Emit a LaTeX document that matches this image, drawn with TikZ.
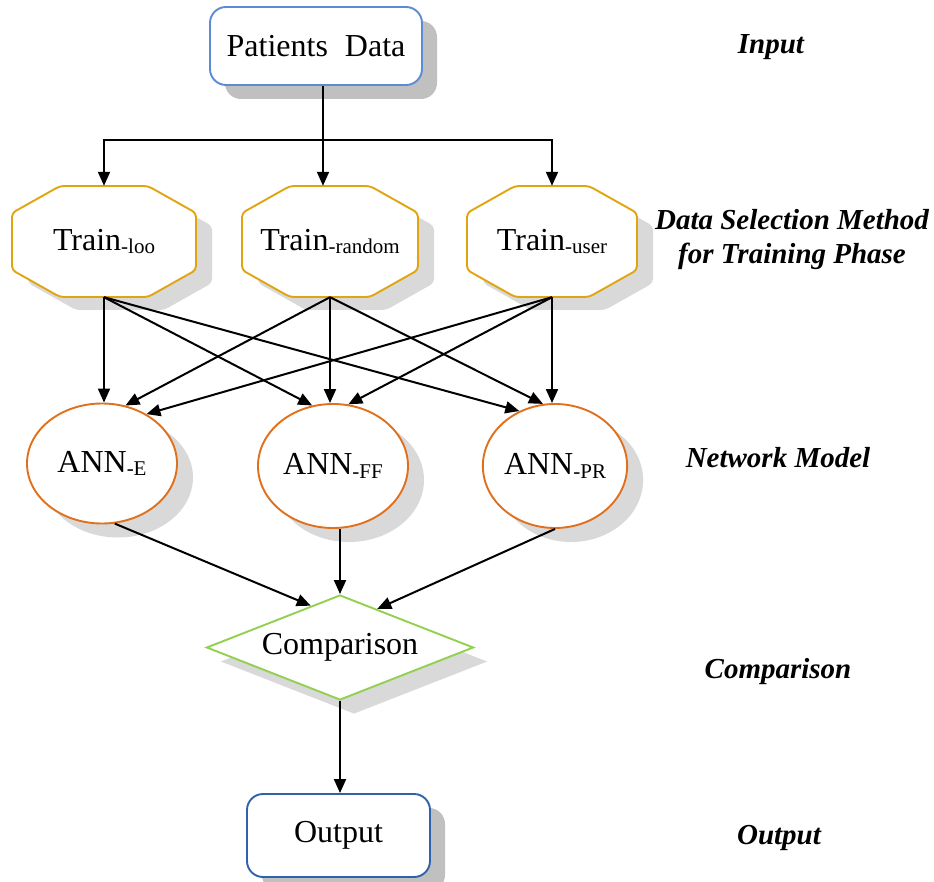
\documentclass[tikz,border=0pt]{standalone}
\usepackage{fontspec}
\setmainfont{Liberation Serif}
\usetikzlibrary{arrows.meta,shapes.geometric,shadows}

\definecolor{pdblue}{HTML}{5B8BD4}
\definecolor{outblue}{HTML}{2F62AA}
\definecolor{octgold}{HTML}{E0A50E}
\definecolor{annorange}{HTML}{E0701C}
\definecolor{cmpgreen}{HTML}{92D050}
\definecolor{shadowdark}{HTML}{C0C0C0}
\definecolor{shadowlight}{HTML}{D9D9D9}

% subscript tag such as "-loo"
\newcommand\subtag[1]{\raisebox{-0.12em}{\fontsize{21}{21}\selectfont -#1}}

% octagon outline: #1 style, #2/#3 centre, #4 half width, #5 half height
\newcommand\octshape[5]{%
  \path[#1, shift={(#2,#3)}, rounded corners=4pt]
    ({-#4+48},#5) -- ({#4-48},#5) -- (#4,{#5-27}) -- (#4,{-#5+27})
    -- ({#4-48},-#5) -- ({-#4+48},-#5) -- (-#4,{-#5+27}) -- (-#4,{#5-27}) -- cycle;}

\tikzset{
  maintext/.style={font=\fontsize{32}{36}\selectfont, text=black},
  roundbox/.style={maintext, rectangle, rounded corners=16pt, fill=white,
    line width=1.9pt, inner sep=0pt,
    drop shadow={shadow xshift=15pt, shadow yshift=-14pt, fill=shadowdark, opacity=1}},
  octline/.style={draw=octgold, line width=1.9pt, fill=white},
  octshadow/.style={fill=shadowlight},
  octnode/.style={maintext, rectangle, inner sep=0pt},
  annnode/.style={maintext, ellipse, draw=annorange, line width=1.9pt, fill=white,
    inner sep=0pt,
    drop shadow={shadow xshift=16pt, shadow yshift=-14pt, fill=shadowlight, opacity=1}},
  cmpnode/.style={maintext, diamond, aspect=2.5, draw=cmpgreen, line width=1.9pt,
    fill=white, inner sep=0pt, minimum width=267pt, minimum height=105pt,
    drop shadow={shadow xshift=14pt, shadow yshift=-14pt, fill=shadowlight, opacity=1}},
  lbl/.style={font=\fontsize{29}{34}\selectfont\bfseries\itshape, align=center},
  link/.style={line width=2pt, black},
  arr/.style={link, -{Triangle[length=14pt, width=12pt]}},
}

\begin{document}
\begin{tikzpicture}[x=1pt, y=1pt]
\useasboundingbox (0,0) rectangle (934,-882);

% input box
\node[roundbox, draw=pdblue, minimum width=212pt, minimum height=78pt] (pd) at (316,-46)
  {Patients\hspace{17pt}Data};

% data selection octagons
\octshape{octshadow}{120}{-254.5}{92}{55.5}
\octshape{octshadow}{346}{-254.5}{88}{55.5}
\octshape{octshadow}{568}{-254.5}{85}{55.5}
\octshape{octline}{104}{-241.5}{92}{55.5}
\octshape{octline}{330}{-241.5}{88}{55.5}
\octshape{octline}{552}{-241.5}{85}{55.5}
\node[octnode, minimum width=184pt, minimum height=111pt] (trL) at (104,-241.5) {Train\subtag{loo}};
\node[octnode, minimum width=176pt, minimum height=111pt] (trR) at (330,-241.5) {Train\subtag{random}};
\node[octnode, minimum width=170pt, minimum height=111pt] (trU) at (552,-241.5) {Train\subtag{user}};

% network models
\node[annnode, minimum width=150pt, minimum height=120pt] (annE)  at (102,-463.5) {ANN\subtag{E}};
\node[annnode, minimum width=150pt, minimum height=124pt] (annFF) at (333,-466) {ANN\subtag{FF}};
\node[annnode, minimum width=140pt, minimum height=124pt] (annPR) at (555,-466) {ANN\subtag{PR}};

% comparison and output
\node[cmpnode] (cmp) at (340,-647.5) {Comparison};
\node[roundbox, draw=outblue, minimum width=183pt, minimum height=83pt] (out) at (338.5,-835.5) {Output};

% stage labels
\node[lbl] (lin)  at (771,-47)  {Input};
\node[lbl] (lsel) at (792,-240) {Data Selection Method\\for Training Phase};
\node[lbl] (lnet) at (778,-458) {Network Model};
\node[lbl] (lcmp) at (778,-672) {Comparison};
\node[lbl] (lout) at (779,-838) {Output};

% input fan-out
\coordinate (bar) at (323,-140);
\draw[link] ([xshift=7pt]pd.south) -- (bar);
\draw[link, line cap=rect] (bar -| trL.north) -- (bar -| trU.north);
\draw[arr] (bar -| trL.north) -- (trL.north);
\draw[arr] (bar) -- (bar |- trR.north);
\draw[arr] (bar -| trU.north) -- (trU.north);

% every selection method feeds every network
\draw[arr] (trL.south) -- (trL.south |- annE.north);
\draw[arr] (trL.south) -- (annFF.109);
\draw[arr] (trL.south) -- (annPR.123);
\draw[arr] (trR.south) -- (annE.68);
\draw[arr] (trR.south) -- (trR.south |- annFF.north);
\draw[arr] (trR.south) -- (annPR.101);
\draw[arr] (trU.south) -- (annE.48);
\draw[arr] (trU.south) -- (annFF.76);
\draw[arr] (trU.south) -- (trU.south |- annPR.north);

% networks into comparison
\draw[arr] (annE.282) -- (cmp.125);
\draw[arr] (annFF.south -| cmp.north) -- (cmp.north);
\draw[arr] (annPR.south) -- (cmp.46);

% result
\draw[arr] (cmp.south) -- (cmp.south |- out.north);
\end{tikzpicture}
\end{document}
